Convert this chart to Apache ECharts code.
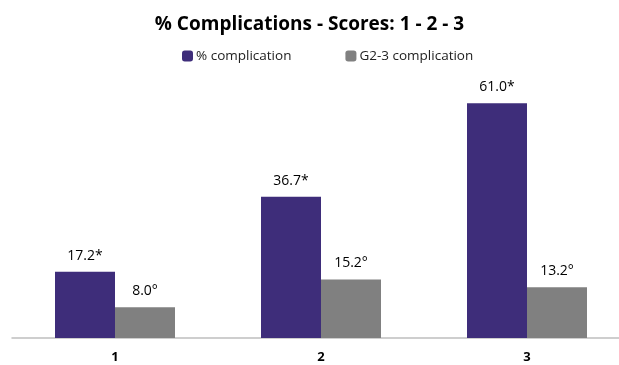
<!DOCTYPE html>
<html><head><meta charset="utf-8">
<script src="https://cdn.jsdelivr.net/npm/echarts@6/dist/echarts.min.js"></script>
<style>html,body{margin:0;padding:0;background:#fff}#c{width:619px;height:365px}</style>
</head><body><div id="c"></div>
<script>
const categories = ['1', '2', '3'];
const pctComplication = [17.2, 36.7, 61.0];
const pctLabels = ['17.2*', '36.7*', '61.0*'];
const g23Complication = [8.0, 15.2, 13.2];
const g23Labels = ['8.0°', '15.2°', '13.2°'];

const font = 'Open Sans, Liberation Sans, sans-serif';
const chart = echarts.init(document.getElementById('c'));
chart.setOption({
  animation: false,
  title: {
    text: '% Complications - Scores: 1 - 2 - 3',
    left: 'center', top: 10,
    textStyle: { fontFamily: font, fontWeight: 'bold', fontSize: 19, color: '#000' }
  },
  legend: {
    top: 44, left: 177, itemGap: 54, itemWidth: 11, itemHeight: 11,
    textStyle: { fontFamily: font, fontSize: 13.5, color: '#222', padding: [0, 0, 0, -2] },
    data: ['% complication', 'G2-3 complication']
  },
  grid: { left: 12, right: -11, top: 68.5, bottom: 27, outerBoundsMode: 'none', containLabel: false },
  xAxis: {
    type: 'category', data: categories,
    axisLine: { lineStyle: { color: '#bfbfbf', width: 1.5 } },
    axisTick: { show: false },
    axisLabel: { fontFamily: font, fontWeight: 'bold', fontSize: 13, color: '#000', margin: 13 }
  },
  yAxis: { type: 'value', min: 0, max: 70, show: false, splitLine: { show: false } },
  series: [
    {
      name: '% complication', type: 'bar', data: pctComplication,
      barWidth: 60, barGap: '0%',
      itemStyle: { color: '#3e2d7a' },
      label: { show: true, position: 'top', distance: 9, fontFamily: font, fontSize: 14, color: '#000',
        formatter: p => pctLabels[p.dataIndex] }
    },
    {
      name: 'G2-3 complication', type: 'bar', data: g23Complication,
      barWidth: 60, barGap: '0%',
      itemStyle: { color: '#808080' },
      label: { show: true, position: 'top', distance: 9, fontFamily: font, fontSize: 14, color: '#000',
        formatter: p => g23Labels[p.dataIndex] }
    }
  ]
});
</script></body></html>
